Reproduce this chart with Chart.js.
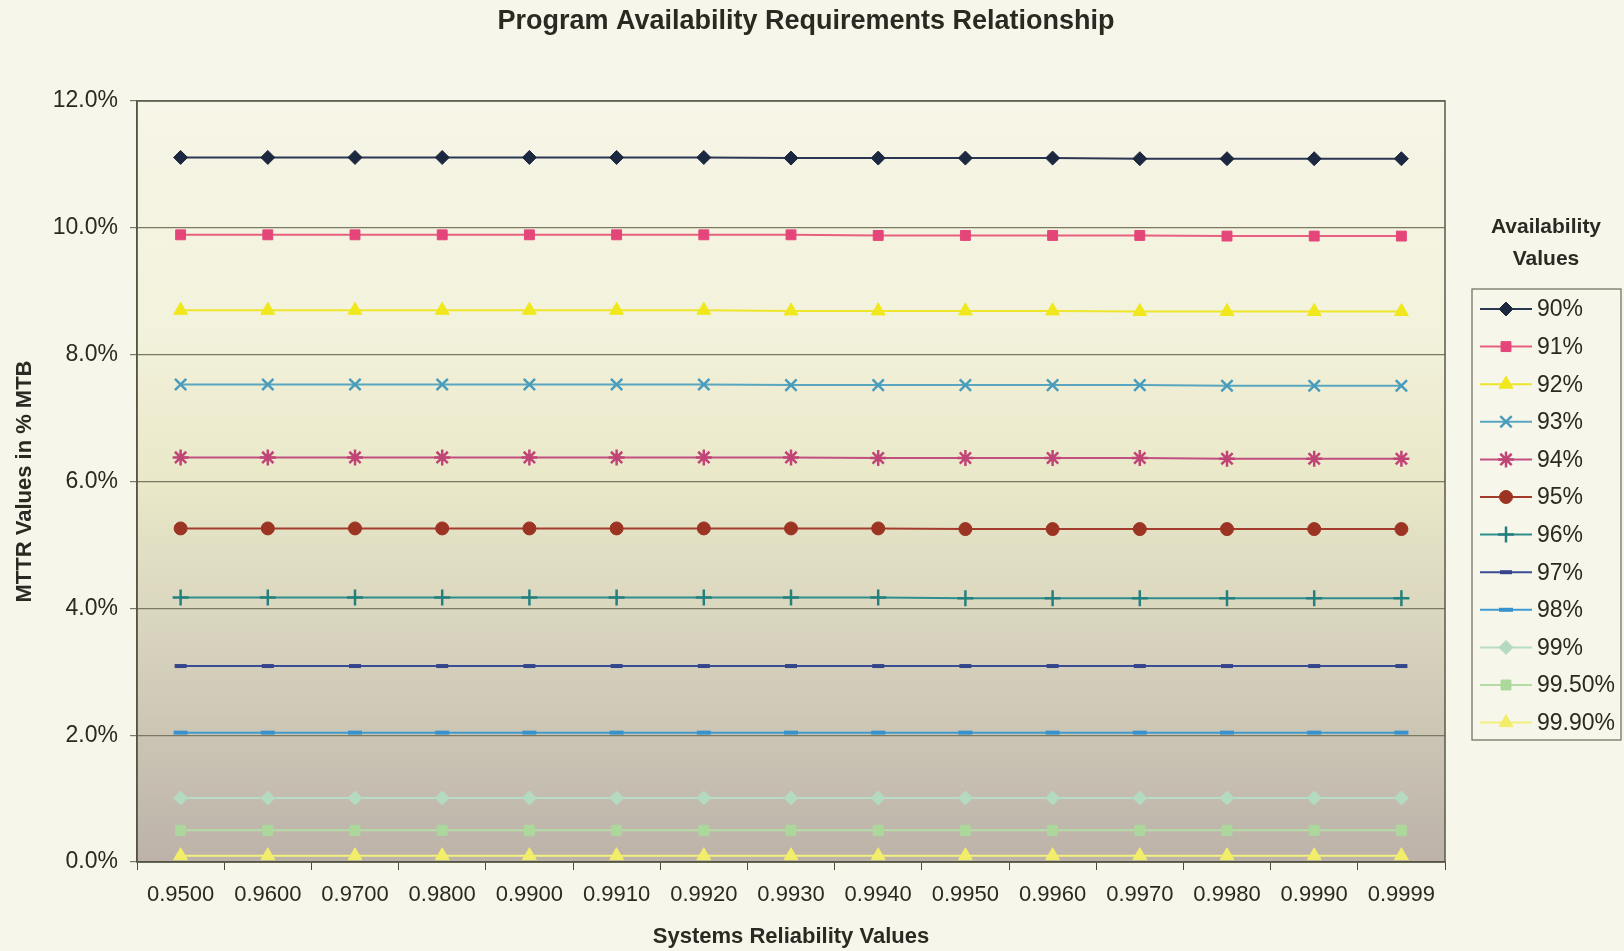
<!DOCTYPE html>
<html>
<head>
<meta charset="utf-8">
<script src="https://cdn.jsdelivr.net/npm/chart.js@4"></script>
<style>
html,body{margin:0;padding:0;background:#f7f6ea;}
#wrap{width:1624px;height:951px;position:relative;}
</style>
</head>
<body>
<div id="wrap"><canvas id="c" width="1624" height="951"></canvas></div>
<script>
const categories = ["0.9500","0.9600","0.9700","0.9800","0.9900","0.9910","0.9920","0.9930","0.9940","0.9950","0.9960","0.9970","0.9980","0.9990","0.9999"];
const yTicks = [0, 2, 4, 6, 8, 10, 12];
const seriesNames = ["90%","91%","92%","93%","94%","95%","96%","97%","98%","99%","99.50%","99.90%"];
const a90  = [11.11,11.11,11.11,11.11,11.11,11.11,11.11,11.10,11.10,11.10,11.10,11.09,11.09,11.09,11.09];
const a91  = [9.89,9.89,9.89,9.89,9.89,9.89,9.89,9.89,9.88,9.88,9.88,9.88,9.87,9.87,9.87];
const a92  = [8.70,8.70,8.70,8.70,8.70,8.70,8.70,8.69,8.69,8.69,8.69,8.68,8.68,8.68,8.68];
const a93  = [7.53,7.53,7.53,7.53,7.53,7.53,7.53,7.52,7.52,7.52,7.52,7.52,7.51,7.51,7.51];
const a94  = [6.38,6.38,6.38,6.38,6.38,6.38,6.38,6.38,6.37,6.37,6.37,6.37,6.36,6.36,6.36];
const a95  = [5.26,5.26,5.26,5.26,5.26,5.26,5.26,5.26,5.26,5.25,5.25,5.25,5.25,5.25,5.25];
const a96  = [4.17,4.17,4.17,4.17,4.17,4.17,4.17,4.17,4.17,4.16,4.16,4.16,4.16,4.16,4.16];
const a97  = [3.09,3.09,3.09,3.09,3.09,3.09,3.09,3.09,3.09,3.09,3.09,3.09,3.09,3.09,3.09];
const a98  = [2.04,2.04,2.04,2.04,2.04,2.04,2.04,2.04,2.04,2.04,2.04,2.04,2.04,2.04,2.04];
const a99  = [1.01,1.01,1.01,1.01,1.01,1.01,1.01,1.01,1.01,1.01,1.01,1.01,1.01,1.01,1.01];
const a995 = [0.50,0.50,0.50,0.50,0.50,0.50,0.50,0.50,0.50,0.50,0.50,0.50,0.50,0.50,0.50];
const a999 = [0.10,0.10,0.10,0.10,0.10,0.10,0.10,0.10,0.10,0.10,0.10,0.10,0.10,0.10,0.10];
const seriesData = [a90,a91,a92,a93,a94,a95,a96,a97,a98,a99,a995,a999];

const styles = [
  {line:'#2b3652', fill:'#1c2740', pt:'rectRot', r:7, bw:1},
  {line:'#e8607f', fill:'#e4467a', pt:'rect', r:7, bw:1},
  {line:'#eee62a', fill:'#f0e81c', pt:'triangle', r:8, bw:1},
  {line:'#58a6c0', fill:'#4a9cbc', pt:'crossRot', r:8, bw:2.5},
  {line:'#c05080', fill:'#c04476', pt:'star', r:8, bw:2.5},
  {line:'#a33c2c', fill:'#9c3424', pt:'circle', r:6.5, bw:1},
  {line:'#2e8e8e', fill:'#24807e', pt:'cross', r:8, bw:2.5},
  {line:'#3a4c94', fill:'#34458c', pt:'line', r:6, bw:4},
  {line:'#3e9ad0', fill:'#3892cc', pt:'line', r:7, bw:4},
  {line:'#b8dcc6', fill:'#b4dac2', pt:'rectRot', r:7, bw:1},
  {line:'#b6dca6', fill:'#acd89c', pt:'rect', r:7, bw:1},
  {line:'#f2f07e', fill:'#f2ee6a', pt:'triangle', r:8, bw:1}
];

const FONT = "'Liberation Sans', Arial, sans-serif";
const TITLE = 'Program Availability Requirements Relationship';

const datasets = seriesNames.map((n,i)=>({
  label:n,
  data:seriesData[i],
  borderColor:styles[i].line,
  backgroundColor:styles[i].fill,
  pointBorderColor:styles[i].fill,
  pointBackgroundColor:styles[i].fill,
  pointStyle:styles[i].pt,
  pointRadius:styles[i].r,
  pointBorderWidth:styles[i].bw,
  borderWidth:2,
  tension:0,
  fill:false
}));

const bgPlugin = {
  id:'bg',
  beforeDraw(chart){
    const {ctx, chartArea:a} = chart;
    ctx.save();
    ctx.fillStyle = '#f7f6ea';
    ctx.fillRect(0,0,chart.width,chart.height);
    const g = ctx.createLinearGradient(0,a.top,0,a.bottom);
    g.addColorStop(0,'#f6f5e7');
    g.addColorStop(0.3,'#f3f2dc');
    g.addColorStop(0.5,'#e9e8c8');
    g.addColorStop(0.7,'#d8d4be');
    g.addColorStop(1,'#bcb2a9');
    ctx.fillStyle = g;
    ctx.fillRect(a.left,a.top,a.right-a.left,a.bottom-a.top);
    ctx.restore();
  },
  afterDatasetsDraw(chart){
    const {ctx, chartArea:a} = chart;
    ctx.save();
    ctx.strokeStyle = '#5a5a48';
    ctx.lineWidth = 1.5;
    ctx.strokeRect(a.left,a.top,a.right-a.left,a.bottom-a.top);
    ctx.restore();
  },
  afterDraw(chart){
    const ctx = chart.ctx;
    ctx.save();
    ctx.fillStyle = '#2a2a22';
    ctx.font = "bold 27px " + FONT;
    ctx.textAlign = 'center';
    ctx.textBaseline = 'middle';
    ctx.fillText(TITLE, 806, 22);
    ctx.font = "bold 21px " + FONT;
    ctx.fillText('Availability', 1546, 227);
    ctx.fillText('Values', 1546, 259);
    ctx.strokeStyle = '#6a6a5a';
    ctx.lineWidth = 1.2;
    ctx.strokeRect(1472, 289, 149, 451);
    const y0 = 309, step = 37.6;
    chart.data.datasets.forEach((ds,i)=>{
      const y = y0 + i*step;
      ctx.strokeStyle = ds.borderColor;
      ctx.lineWidth = 2;
      ctx.beginPath(); ctx.moveTo(1480,y); ctx.lineTo(1532,y); ctx.stroke();
      ctx.fillStyle = ds.pointBackgroundColor;
      ctx.strokeStyle = ds.pointBorderColor;
      ctx.lineWidth = ds.pointBorderWidth;
      Chart.helpers.drawPoint(ctx, {pointStyle:ds.pointStyle, radius:ds.pointRadius, borderWidth:ds.pointBorderWidth, rotation:0}, 1506, y);
      ctx.fillStyle = '#2a2a22';
      ctx.font = "23px " + FONT;
      ctx.textAlign = 'left';
      ctx.fillText(ds.label, 1537, y+1);
    });
    ctx.restore();
  }
};

new Chart(document.getElementById('c'), {
  type:'line',
  data:{labels:categories, datasets:datasets},
  plugins:[bgPlugin],
  options:{
    responsive:false,
    animation:false,
    devicePixelRatio:1,
    layout:{padding:{left:0, right:179, top:101, bottom:0}},
    plugins:{
      legend:{display:false},
      tooltip:{enabled:false},
      title:{display:false}
    },
    scales:{
      x:{
        type:'category',
        offset:true,
        afterFit(scale){ scale.height = 89; },
        grid:{display:true, drawOnChartArea:false, drawTicks:true, tickLength:8, color:'#4a4a3a', offset:true},
        border:{display:true, color:'#4a4a3a', width:1.5},
        ticks:{color:'#2a2a22', font:{family:FONT, size:22}, padding:12, maxRotation:0, autoSkip:false},
        title:{display:true, text:'Systems Reliability Values', color:'#2a2a22', font:{family:FONT, size:22, weight:'bold'}, padding:{top:0, bottom:1}}
      },
      y:{
        min:0, max:12,
        afterFit(scale){ scale.width = 137; },
        afterBuildTicks(scale){ scale.ticks = yTicks.map(v=>({value:v})); },
        grid:{color:'#7a7a62', lineWidth:1.2, drawTicks:true, tickLength:7},
        border:{display:true, color:'#4a4a3a', width:1.5},
        ticks:{color:'#2a2a22', font:{family:FONT, size:23}, padding:12, callback:(v)=>Number(v).toFixed(1)+'%'},
        title:{display:true, text:'MTTR Values in % MTB', color:'#2a2a22', font:{family:FONT, size:22, weight:'bold'}, padding:{top:12, bottom:0}}
      }
    }
  }
});
</script>
</body>
</html>
